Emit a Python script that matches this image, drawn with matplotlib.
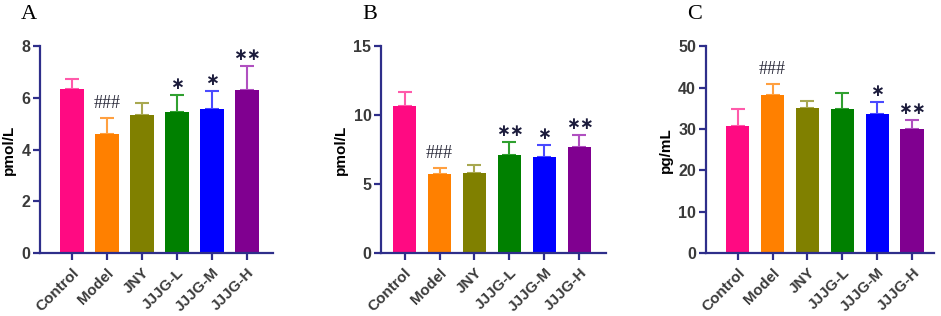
import numpy as np
import matplotlib.pyplot as plt

# Data
# ----
groups = ['Control', 'Model', 'JNY', 'JJJG-L', 'JJJG-M', 'JJJG-H']

means_a = [6.36, 4.59, 5.33, 5.46, 5.57, 6.32]
errs_a = [0.38, 0.62, 0.47, 0.65, 0.70, 0.90]
marks_a = ['', '###', '', '*', '*', '**']

means_b = [10.63, 5.75, 5.82, 7.12, 6.93, 7.66]
errs_b = [1.04, 0.39, 0.56, 0.92, 0.90, 0.91]
marks_b = ['', '###', '', '**', '*', '**']

means_c = [30.8, 38.1, 35.1, 34.9, 33.6, 29.95]
errs_c = [3.9, 2.65, 1.6, 3.85, 3.0, 2.25]
marks_c = ['', '###', '', '', '*', '**']

bar_colors = ['#FF0A82', '#FF8000', '#808000', '#008000', '#0000FF', '#800090']
err_colors = ['#FF5AAA', '#FFA040', '#A8A850', '#30A030', '#4A4AFF', '#B050C0']
axis_color = '#2E2E8A'
text_color = '#3A3A3A'

plt.rcParams['font.family'] = ['Liberation Sans', 'DejaVu Sans']


def draw_panel(ax, means, errs, marks, ymax, ystep, ylabel, letter, xlim):
    x = np.arange(len(groups))
    ax.bar(x, means, width=0.68, color=bar_colors, zorder=2)
    for i in range(len(groups)):
        ax.errorbar(x[i], means[i], yerr=[[0], [errs[i]]], fmt='none',
                    ecolor=err_colors[i], elinewidth=1.5, capsize=5,
                    capthick=1.5, zorder=1)
        if marks[i]:
            top = means[i] + errs[i]
            if marks[i].startswith('#'):
                ax.text(x[i], top + ymax * 0.03, marks[i], ha='center',
                        va='bottom', fontsize=13, family='Liberation Serif',
                        color='#2A2A3A')
            else:
                ax.text(x[i], top + ymax * 0.01, marks[i].replace('*', '\u2217'),
                        ha='center', va='bottom', fontsize=12, fontweight='bold',
                        family='DejaVu Sans', color='#1C1C3C')
    ax.set_xlim(*xlim)
    ax.set_ylim(0, ymax)
    ax.set_yticks(np.arange(0, ymax + 0.01, ystep))
    ax.set_xticks(x)
    ax.set_xticklabels(groups, rotation=45, ha='right', rotation_mode='anchor',
                       fontsize=11, fontweight='bold', color=text_color)
    for lab in ax.get_yticklabels():
        lab.set_fontsize(11.5)
        lab.set_fontweight('bold')
        lab.set_color(text_color)
    ax.spines['top'].set_visible(False)
    ax.spines['right'].set_visible(False)
    for s in ['left', 'bottom']:
        ax.spines[s].set_color(axis_color)
        ax.spines[s].set_linewidth(1.6)
    ax.tick_params(axis='both', direction='out', length=5, width=1.6,
                   color=axis_color, pad=2)
    ax.tick_params(axis='x', pad=4)
    ax.set_ylabel(ylabel, fontsize=11, fontweight='bold', color='black', labelpad=4)
    fig = ax.figure
    pos = ax.get_position()
    fig.text(pos.x0 - 0.02, 0.925, letter, fontsize=16, family='Liberation Serif',
             ha='left', va='bottom')


fig = plt.figure(figsize=(9.41, 3.16), dpi=100)

ax1 = fig.add_axes([0.0425, 0.199, 0.2476, 0.655])
ax2 = fig.add_axes([0.405, 0.199, 0.239, 0.655])
ax3 = fig.add_axes([0.750, 0.199, 0.243, 0.655])

draw_panel(ax1, means_a, errs_a, marks_a, 8, 2, 'pmol/L', 'A', (-0.91, 5.74))
draw_panel(ax2, means_b, errs_b, marks_b, 15, 5, 'pmol/L', 'B', (-0.67, 5.76))
draw_panel(ax3, means_c, errs_c, marks_c, 50, 10, 'pg/mL', 'C', (-0.91, 5.63))

plt.savefig('out.png', dpi=100)
